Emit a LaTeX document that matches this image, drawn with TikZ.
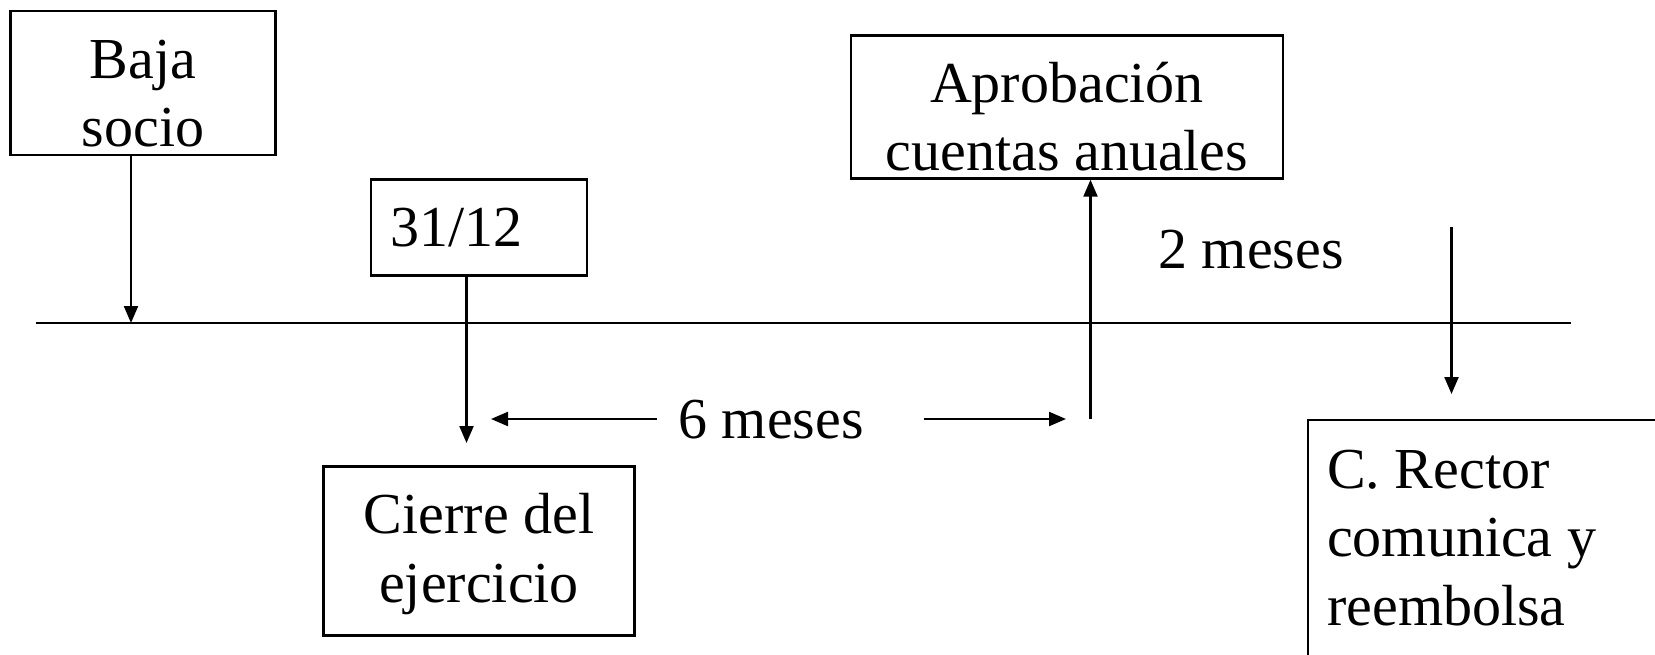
\documentclass[tikz,border=0pt]{standalone}
\usepackage{fontspec}
\setmainfont{Liberation Serif}
\usetikzlibrary{arrows.meta}

\begin{document}
\begin{tikzpicture}[
    x=1pt,
    y=-1pt,
    box/.style={
        draw,
        line width=2.4pt,
        inner sep=0pt
    },
    txt/.style={
        font=\fontsize{58}{68.5}\selectfont,
        inner sep=0pt,
        anchor=base
    },
    arr/.style={
        line width=2.2pt,
        -{Triangle[length=17pt,width=14pt]}
    }
]

% bounding box
\useasboundingbox (0,0) rectangle (1655,655);

% blocks
\node[box, minimum width=265pt, minimum height=144pt] (baja) at (143,83) {};
\node[box, minimum width=216pt, minimum height=96pt] (fecha) at (479,227.5) {};
\node[box, minimum width=432pt, minimum height=143pt] (aprob) at (1067,107) {};
\node[box, minimum width=311pt, minimum height=169pt] (cierre) at (479,551) {};
\node[box, minimum width=500pt, minimum height=400pt, anchor=north west] (rector) at (1307,419) {};

\node[txt, align=center] (bajaT) at (143,147) {Baja\\socio};
\node[txt, anchor=base west] (fechaT) at (390,246.5) {31/12};
\node[txt, align=center] (aprobT) at (1067,171) {Aprobación\\cuentas anuales};
\node[txt, align=center] (cierreT) at (479,602) {Cierre del\\ejercicio};
\node[txt, align=left, anchor=base west] (rectorT) at (1327,625) {C. Rector\\comunica y\\reembolsa};
\node[txt] (seis) at (771,438) {6 meses};
\node[txt] (dos) at (1251,269) {2 meses};

% timeline
\coordinate (ini) at (36,323);
\coordinate (fin) at (1571,323);
\draw[line width=2.2pt] (ini) -- (fin);

\coordinate (bajaPie) at (131,323);
\coordinate (cierreTop) at (466.5,443);
\coordinate (aprobPie) at (1090.5,419);
\coordinate (seisL) at (656.5,419);
\coordinate (seisLe) at (491,419);
\coordinate (seisR) at (923.5,419);
\coordinate (seisRe) at (1066,419);
\coordinate (dosTop) at (1451.5,227);
\coordinate (dosPie) at (1451.5,394);

% arrows
\draw[arr] (baja.south -| bajaPie) -- (bajaPie);
\draw[arr] (fecha.south -| cierreTop) -- (cierreTop);
\draw[arr] (aprobPie) -- (aprob.south -| aprobPie);
\draw[arr] (seisL) -- (seisLe);
\draw[arr] (seisR) -- (seisRe);
\draw[arr] (dosTop) -- (dosPie);

\end{tikzpicture}
\end{document}
